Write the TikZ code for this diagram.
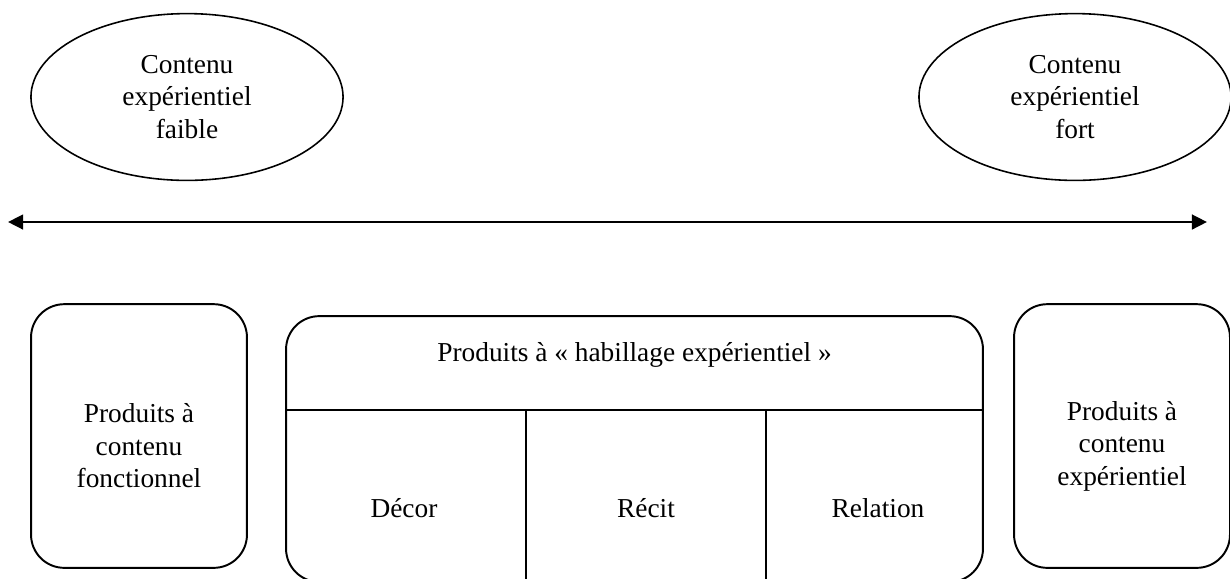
\documentclass[tikz,border=0pt]{standalone}
\usepackage{fontspec}
\setmainfont{Liberation Serif}
\usetikzlibrary{shapes.geometric,arrows.meta,positioning}

\begin{document}
\begin{tikzpicture}[x=0.01445cm,y=-0.01445cm,line width=0.8pt,
 every node/.style={font=\fontsize{11.25}{13.4}\selectfont},
 contenu/.style={draw,ellipse,line width=0.65pt,minimum width=4.51cm,minimum height=2.41cm,align=center,inner sep=0pt},
 produit/.style={draw,rounded corners=0.48cm,minimum width=3.12cm,minimum height=3.81cm},
 txt/.style={align=center,inner sep=0pt}]
 \useasboundingbox (0,0) rectangle (1230,578);
 \node[contenu] (c_faible) at (187,97) {Contenu\\expérientiel\\faible};
 \node[contenu] (c_fort) at (1075,97) {Contenu\\expérientiel\\fort};
 \coordinate (a_g) at (8,222);
 \coordinate (a_d) at (1207,222);
 \draw[{Triangle[length=6.2pt,width=6pt]}-{Triangle[length=6.2pt,width=6pt]},line width=1.1pt] (a_g) -- (a_d);
 \node[produit] (p_fonct) at (139,436) {};
 \node[txt] (t_fonct) at (139,446) {Produits à\\contenu\\fonctionnel};
 \node[produit] (p_exp) at (1122,436) {};
 \node[txt] (t_exp) at (1122,446) {Produits à\\contenu\\expérientiel};
 \node[draw,rounded corners=0.48cm,minimum width=10.07cm,minimum height=3.84cm] (p_hab) at (634.5,449) {};
 \node[txt] (hab) at (634.5,355) {Produits à « habillage expérientiel »};
 \coordinate (sep) at (0,410);
 \coordinate (v1) at (526,410);
 \coordinate (v2) at (766,410);
 \draw (sep -| p_hab.west) -- (sep -| p_hab.east);
 \draw (v1) -- (v1 |- p_hab.south);
 \draw (v2) -- (v2 |- p_hab.south);
 \node[txt] (decor) at (404,508) {Décor};
 \node[txt] (recit) at (646,508) {Récit};
 \node[txt] (relation) at (878,508) {Relation};
\end{tikzpicture}
\end{document}
